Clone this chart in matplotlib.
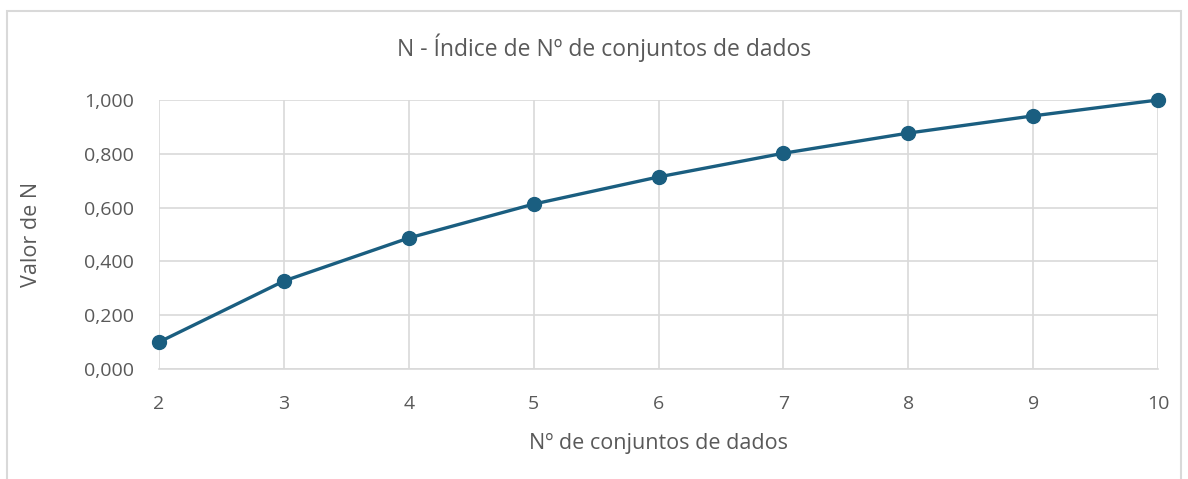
import matplotlib
matplotlib.use("Agg")
import matplotlib.pyplot as plt
from matplotlib.patches import Rectangle
from matplotlib.ticker import FuncFormatter

# dados
n_conjuntos = [2, 3, 4, 5, 6, 7, 8, 9, 10]
valor_n = [0.100, 0.327, 0.487, 0.613, 0.714, 0.802, 0.877, 0.941, 1.000]

plt.rcParams['font.family'] = ['Open Sans', 'DejaVu Sans']
cor = '#1a5e80'
cinza = '#595959'
grade = '#d9d9d9'

fig = plt.figure(figsize=(11.88, 4.79), dpi=100)
ax = fig.add_axes([159 / 1188, 1 - 369 / 479, (1158 - 159) / 1188, (369 - 100) / 479])

# moldura exterior do gráfico
fig.patches.append(Rectangle((7 / 1188, -0.05), (1181 - 7) / 1188, 1.05 - 11 / 479,
                             transform=fig.transFigure, fill=False,
                             edgecolor=grade, linewidth=1.5))

ax.plot(n_conjuntos, valor_n, color=cor, linewidth=2.4, marker='o',
        markersize=10, zorder=3, clip_on=False)

ax.set_xlim(2, 10)
ax.set_ylim(0, 1)
ax.set_xticks(n_conjuntos)
ax.set_yticks([0, 0.2, 0.4, 0.6, 0.8, 1.0])
ax.yaxis.set_major_formatter(FuncFormatter(lambda v, p: f"{v:.3f}".replace('.', ',')))
ax.grid(True, color=grade, linewidth=1.2)
ax.set_axisbelow(True)
for s in ['top', 'right', 'left']:
    ax.spines[s].set_visible(False)
ax.spines['bottom'].set_color(grade)
ax.spines['bottom'].set_linewidth(1.2)
ax.tick_params(length=0, labelsize=14, colors=cinza)
ax.tick_params(axis='y', pad=18)
ax.tick_params(axis='x', pad=19)

fig.text(604 / 1188, 1 - 48 / 479, 'N - Índice de Nº de conjuntos de dados',
         fontsize=16.5, color=cinza, ha='center', va='center')
ax.set_xlabel('Nº de conjuntos de dados', fontsize=15.5, color=cinza, labelpad=14)
ax.set_ylabel('Valor de N', fontsize=15.5, color=cinza, labelpad=30)

fig.savefig('out.png', dpi=100)
